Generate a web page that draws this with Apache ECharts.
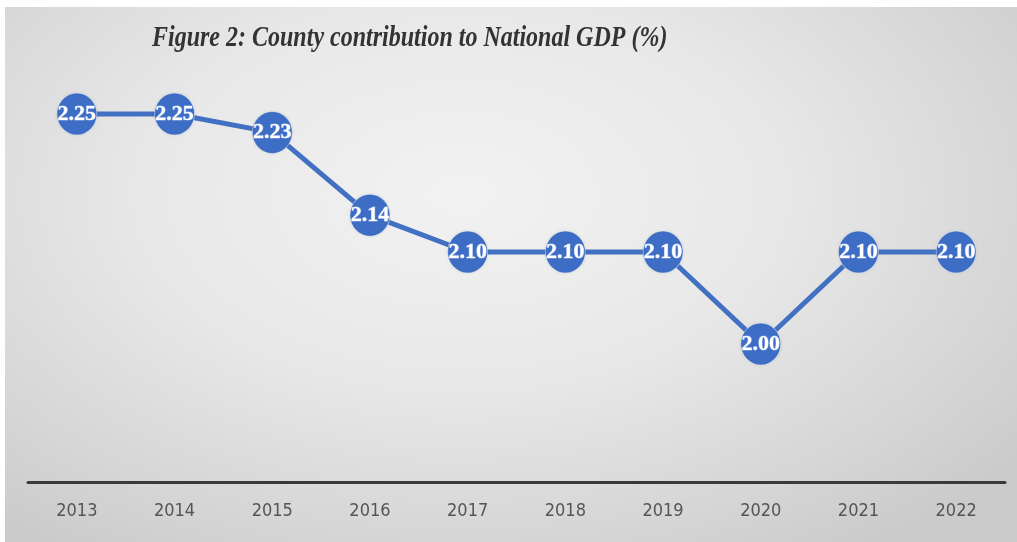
<!DOCTYPE html>
<html>
<head>
<meta charset="utf-8">
<script src="https://cdn.jsdelivr.net/npm/echarts@6/dist/echarts.min.js"></script>
<style>
  html, body { margin: 0; padding: 0; background: #ffffff; }
  #frame {
    position: absolute; left: 5px; top: 7px; width: 1012px; height: 535px;
    background: radial-gradient(ellipse 70% 80% at 45% 35%, #f2f2f2 0%, #e8e8e8 45%, #d6d6d6 80%, #cbcbcb 100%);
  }
  #chart { position: absolute; left: 0; top: 0; width: 1017px; height: 542px; }
</style>
</head>
<body>
<div id="frame"></div>
<div id="chart"></div>
<script>
// County share of national GDP, per year (%)
const years = ['2013', '2014', '2015', '2016', '2017', '2018', '2019', '2020', '2021', '2022'];
const share = [2.25, 2.25, 2.23, 2.14, 2.10, 2.10, 2.10, 2.00, 2.10, 2.10];
const titleText = 'Figure 2: County contribution to National GDP (%)';

const chart = echarts.init(document.getElementById('chart'), null, { renderer: 'canvas' });

chart.setOption({
  backgroundColor: 'transparent',
  animation: false,
  // tall serif heading
  graphic: [{
    type: 'text',
    x: 152,
    y: 24,
    scaleX: 0.96,
    scaleY: 1.15,
    style: {
      text: titleText,
      fontFamily: 'Liberation Serif',
      fontStyle: 'italic',
      fontWeight: 'bold',
      fontSize: 25,
      fill: '#333333'
    }
  }],
  grid: { left: 28, right: 12, top: 68, bottom: 60 },
  xAxis: {
    type: 'category',
    data: years,
    boundaryGap: true,
    axisLine: { show: true, lineStyle: { color: '#3a3a3a', width: 3 } },
    axisTick: { show: false },
    axisLabel: {
      margin: 20,
      fontFamily: 'DejaVu Sans Condensed',
      fontSize: 18,
      color: '#555555'
    },
    splitLine: { show: false }
  },
  yAxis: {
    type: 'value',
    min: 1.85,
    max: 2.3,
    show: false
  },
  series: [{
    type: 'line',
    data: share,
    symbol: 'circle',
    symbolSize: [40, 42],
    lineStyle: { color: '#4270c2', width: 5 },
    itemStyle: {
      color: '#3d6dc5',
      borderColor: 'rgba(255,255,255,0.45)',
      borderWidth: 1,
      shadowColor: 'rgba(0,0,0,0.12)',
      shadowBlur: 3
    },
    label: {
      show: true,
      position: 'inside',
      formatter: p => p.value.toFixed(2),
      fontFamily: 'Liberation Sans Narrow',
      fontWeight: 'bold',
      fontSize: 22,
      color: '#ffffff',
      textBorderColor: 'rgba(220,230,255,0.55)',
      textBorderWidth: 1
    }
  }]
});
</script>
</body>
</html>
